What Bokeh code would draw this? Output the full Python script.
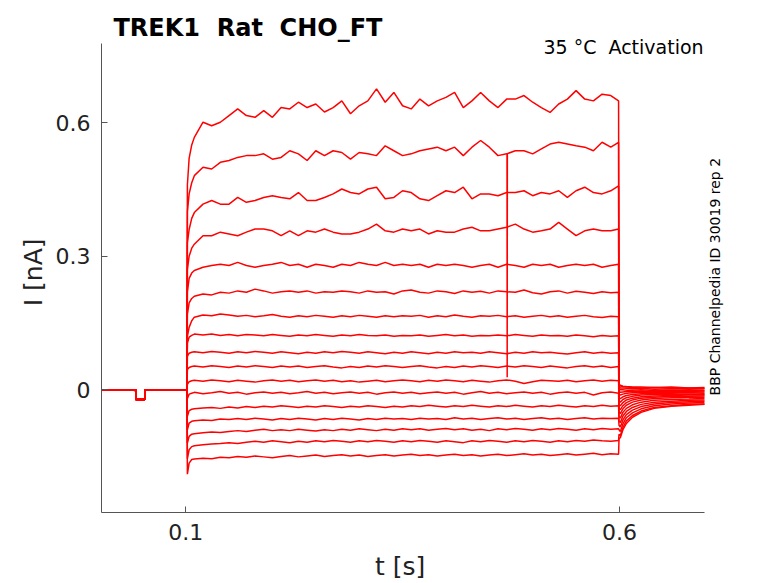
from bokeh.plotting import figure
from bokeh.models import Range1d, FixedTicker, Label
from bokeh.embed import file_html
from bokeh.resources import INLINE
import math

# temps (s) : ligne de base avant le saut de tension
BASE_T = [0.003, 0.0424, 0.0426, 0.0528, 0.053, 0.1015]
BASE_I = [0.0, 0.0, -0.022, -0.022, 0.0, 0.0]

# temps pendant le saut (0.102 .. 0.599)
STEP_T = [0.102, 0.104, 0.107,
          0.11, 0.12, 0.13, 0.14, 0.15, 0.16, 0.17, 0.18, 0.19, 0.20,
          0.21, 0.22, 0.23, 0.24, 0.25, 0.26, 0.27, 0.28, 0.29, 0.30,
          0.31, 0.32, 0.33, 0.34, 0.35, 0.36, 0.37, 0.38, 0.39, 0.40,
          0.41, 0.42, 0.43, 0.44, 0.45, 0.46, 0.47, 0.48, 0.49, 0.50,
          0.51, 0.52, 0.53, 0.54, 0.55, 0.56, 0.57, 0.58, 0.59, 0.599]

# courants (nA) pendant le saut, un trace par tension
TR01 = [0.46, 0.52, 0.55,
        0.567, 0.601, 0.593, 0.601, 0.616, 0.631, 0.616, 0.612, 0.627, 0.612, 0.634, 0.631, 0.646,
        0.634, 0.642, 0.624, 0.634, 0.649, 0.620, 0.638, 0.649, 0.676, 0.646, 0.668, 0.638,
        0.631, 0.653, 0.638, 0.649, 0.657, 0.668, 0.634, 0.649, 0.668, 0.649, 0.634, 0.653,
        0.653, 0.661, 0.646, 0.634, 0.623, 0.642, 0.653, 0.672, 0.653, 0.649, 0.664, 0.661, 0.649]
TR02 = [0.40, 0.44, 0.465,
        0.481, 0.500, 0.496, 0.511, 0.515, 0.522, 0.526, 0.526, 0.530, 0.518, 0.522, 0.537, 0.530,
        0.515, 0.537, 0.526, 0.537, 0.533, 0.518, 0.533, 0.530, 0.526, 0.548, 0.537, 0.526,
        0.530, 0.537, 0.541, 0.545, 0.537, 0.545, 0.526, 0.545, 0.560, 0.545, 0.526, 0.530,
        0.537, 0.537, 0.530, 0.541, 0.552, 0.556, 0.552, 0.548, 0.545, 0.537, 0.556, 0.545, 0.556]
TR03 = [0.33, 0.36, 0.385,
        0.398, 0.417, 0.425, 0.417, 0.417, 0.432, 0.421, 0.425, 0.432, 0.436, 0.432, 0.429, 0.443,
        0.425, 0.425, 0.432, 0.440, 0.451, 0.443, 0.440, 0.451, 0.455, 0.429, 0.432, 0.447,
        0.443, 0.429, 0.425, 0.436, 0.447, 0.443, 0.455, 0.429, 0.440, 0.440, 0.436, 0.443,
        0.443, 0.447, 0.436, 0.443, 0.440, 0.447, 0.432, 0.447, 0.455, 0.443, 0.440, 0.447, 0.458]
TR04 = [0.27, 0.30, 0.318,
        0.327, 0.346, 0.346, 0.354, 0.350, 0.346, 0.354, 0.361, 0.361, 0.357, 0.346, 0.357, 0.346,
        0.357, 0.354, 0.361, 0.354, 0.350, 0.350, 0.354, 0.361, 0.372, 0.357, 0.354, 0.361,
        0.357, 0.361, 0.350, 0.357, 0.354, 0.354, 0.361, 0.365, 0.357, 0.357, 0.361, 0.365,
        0.372, 0.361, 0.354, 0.357, 0.361, 0.376, 0.361, 0.346, 0.357, 0.361, 0.357, 0.357, 0.361]
TR05 = [0.22, 0.25, 0.262,
        0.268, 0.275, 0.279, 0.282, 0.279, 0.286, 0.279, 0.275, 0.279, 0.282, 0.286, 0.279, 0.282,
        0.275, 0.282, 0.279, 0.275, 0.282, 0.279, 0.286, 0.282, 0.279, 0.286, 0.279, 0.282,
        0.279, 0.282, 0.275, 0.282, 0.279, 0.282, 0.279, 0.275, 0.279, 0.282, 0.275, 0.282,
        0.279, 0.275, 0.282, 0.279, 0.282, 0.275, 0.279, 0.282, 0.279, 0.282, 0.275, 0.279, 0.282]
TR06 = [0.17, 0.195, 0.205,
        0.210, 0.215, 0.213, 0.219, 0.217, 0.222, 0.219, 0.226, 0.222, 0.217, 0.220, 0.222, 0.219,
        0.222, 0.217, 0.220, 0.219, 0.222, 0.220, 0.217, 0.222, 0.219, 0.220, 0.215, 0.222,
        0.224, 0.219, 0.217, 0.222, 0.220, 0.216, 0.222, 0.219, 0.221, 0.217, 0.222, 0.220,
        0.219, 0.224, 0.218, 0.215, 0.220, 0.222, 0.217, 0.221, 0.219, 0.216, 0.220, 0.218, 0.219]
TR07 = [0.12, 0.140, 0.155,
        0.163, 0.168, 0.166, 0.170, 0.168, 0.165, 0.167, 0.164, 0.166, 0.169, 0.165, 0.163, 0.166,
        0.164, 0.167, 0.165, 0.163, 0.166, 0.164, 0.167, 0.165, 0.163, 0.166, 0.164, 0.166,
        0.165, 0.167, 0.163, 0.166, 0.164, 0.168, 0.165, 0.163, 0.166, 0.165, 0.167, 0.164,
        0.166, 0.163, 0.165, 0.167, 0.164, 0.166, 0.163, 0.165, 0.167, 0.164, 0.162, 0.165, 0.164]
TR08 = [0.105, 0.118, 0.122,
        0.125, 0.123, 0.125, 0.122, 0.124, 0.121, 0.124, 0.123, 0.121, 0.124, 0.122, 0.120, 0.123,
        0.121, 0.124, 0.122, 0.120, 0.123, 0.121, 0.124, 0.122, 0.121, 0.123, 0.120, 0.122,
        0.121, 0.123, 0.120, 0.122, 0.124, 0.121, 0.123, 0.120, 0.122, 0.121, 0.123, 0.121,
        0.124, 0.122, 0.120, 0.123, 0.121, 0.122, 0.120, 0.123, 0.121, 0.119, 0.122, 0.120, 0.121]
TR09 = [0.075, 0.082, 0.084,
        0.085, 0.083, 0.086, 0.084, 0.082, 0.085, 0.083, 0.086, 0.084, 0.082, 0.085, 0.083, 0.081,
        0.084, 0.082, 0.085, 0.083, 0.086, 0.084, 0.082, 0.085, 0.083, 0.081, 0.084, 0.082,
        0.085, 0.083, 0.081, 0.084, 0.082, 0.085, 0.083, 0.084, 0.082, 0.085, 0.083, 0.081,
        0.084, 0.082, 0.085, 0.083, 0.084, 0.082, 0.080, 0.083, 0.085, 0.082, 0.084, 0.082, 0.083]
TR10 = [0.045, 0.050, 0.052,
        0.053, 0.051, 0.054, 0.052, 0.050, 0.053, 0.051, 0.054, 0.052, 0.050, 0.053, 0.051, 0.053,
        0.050, 0.052, 0.054, 0.051, 0.049, 0.052, 0.050, 0.053, 0.051, 0.054, 0.052, 0.050,
        0.052, 0.054, 0.051, 0.049, 0.052, 0.050, 0.053, 0.051, 0.054, 0.052, 0.050, 0.053,
        0.051, 0.054, 0.052, 0.050, 0.053, 0.051, 0.049, 0.052, 0.054, 0.051, 0.053, 0.050, 0.052]
TR11 = [0.012, 0.018, 0.020,
        0.021, 0.019, 0.022, 0.020, 0.018, 0.021, 0.019, 0.017, 0.020, 0.022, 0.019, 0.021, 0.018,
        0.020, 0.022, 0.019, 0.021, 0.018, 0.020, 0.017, 0.019, 0.021, 0.018, 0.020, 0.022,
        0.020, 0.018, 0.021, 0.019, 0.022, 0.020, 0.018, 0.021, 0.019, 0.017, 0.020, 0.022,
        0.019, 0.014, 0.018, 0.021, 0.020, 0.019, 0.021, 0.018, 0.020, 0.022, 0.019, 0.021, 0.020]
TR12 = [-0.020, -0.010, -0.008,
        -0.006, -0.009, -0.007, -0.004, -0.008, -0.006, -0.010, -0.007, -0.005, -0.008, -0.006, -0.009, -0.007,
        -0.004, -0.008, -0.006, -0.009, -0.007, -0.005, -0.008, -0.006, -0.010, -0.007, -0.005, -0.008,
        -0.006, -0.009, -0.007, -0.005, -0.008, -0.006, -0.010, -0.007, -0.004, -0.008, -0.006, -0.009,
        -0.007, -0.005, -0.008, -0.006, -0.010, -0.007, -0.005, -0.008, -0.006, -0.012, -0.007, -0.005, -0.008]
TR13 = [-0.060, -0.047, -0.044,
        -0.043, -0.041, -0.040, -0.042, -0.039, -0.041, -0.038, -0.040, -0.037, -0.039, -0.036, -0.038, -0.040,
        -0.037, -0.039, -0.036, -0.038, -0.040, -0.037, -0.039, -0.036, -0.038, -0.040, -0.037, -0.039,
        -0.036, -0.038, -0.035, -0.037, -0.039, -0.036, -0.038, -0.035, -0.037, -0.039, -0.036, -0.038,
        -0.035, -0.037, -0.039, -0.036, -0.038, -0.035, -0.037, -0.039, -0.036, -0.038, -0.035, -0.037, -0.036]
TR14 = [-0.090, -0.075, -0.071,
        -0.070, -0.068, -0.069, -0.066, -0.067, -0.065, -0.067, -0.064, -0.066, -0.068, -0.065, -0.067, -0.064,
        -0.066, -0.068, -0.065, -0.067, -0.064, -0.066, -0.068, -0.065, -0.067, -0.064, -0.066, -0.065,
        -0.067, -0.064, -0.066, -0.065, -0.067, -0.063, -0.066, -0.064, -0.067, -0.065, -0.063, -0.066,
        -0.064, -0.067, -0.065, -0.063, -0.066, -0.064, -0.067, -0.065, -0.063, -0.066, -0.064, -0.065, -0.064]
TR15 = [-0.120, -0.105, -0.100,
        -0.099, -0.097, -0.095, -0.096, -0.094, -0.092, -0.094, -0.091, -0.089, -0.092, -0.090, -0.092, -0.089,
        -0.091, -0.093, -0.090, -0.092, -0.089, -0.091, -0.088, -0.090, -0.092, -0.089, -0.091, -0.088,
        -0.090, -0.088, -0.091, -0.089, -0.087, -0.090, -0.088, -0.091, -0.089, -0.092, -0.088, -0.090,
        -0.087, -0.089, -0.091, -0.088, -0.090, -0.087, -0.089, -0.091, -0.088, -0.090, -0.087, -0.089, -0.088]
TR16 = [-0.155, -0.135, -0.128,
        -0.126, -0.124, -0.122, -0.121, -0.119, -0.121, -0.118, -0.116, -0.118, -0.115, -0.117, -0.119, -0.116,
        -0.118, -0.115, -0.117, -0.114, -0.116, -0.118, -0.115, -0.117, -0.114, -0.116, -0.118, -0.115,
        -0.117, -0.114, -0.116, -0.118, -0.115, -0.117, -0.119, -0.115, -0.117, -0.114, -0.116, -0.118,
        -0.115, -0.117, -0.114, -0.116, -0.118, -0.115, -0.117, -0.114, -0.116, -0.113, -0.115, -0.116, -0.114]
TR17 = [-0.190, -0.165, -0.157,
        -0.156, -0.154, -0.155, -0.152, -0.153, -0.150, -0.152, -0.149, -0.151, -0.153, -0.150, -0.148, -0.151,
        -0.149, -0.147, -0.150, -0.148, -0.146, -0.149, -0.147, -0.150, -0.148, -0.146, -0.149, -0.147,
        -0.145, -0.148, -0.146, -0.149, -0.147, -0.145, -0.148, -0.146, -0.149, -0.147, -0.145, -0.148,
        -0.146, -0.144, -0.147, -0.145, -0.148, -0.146, -0.144, -0.147, -0.145, -0.143, -0.146, -0.144, -0.145]

# queue apres le saut
TAIL_T = [0.5995, 0.601, 0.604, 0.608, 0.615, 0.625, 0.64, 0.66, 0.68, 0.698]
TL01 = [0.012, 0.010, 0.008, 0.007, 0.006, 0.006, 0.005, 0.006, 0.004, 0.005]
TL02 = [0.010, 0.008, 0.007, 0.006, 0.005, 0.004, 0.005, 0.003, 0.004, 0.003]
TL03 = [0.006, 0.004, 0.004, 0.003, 0.002, 0.003, 0.001, 0.002, 0.001, 0.002]
TL04 = [0.002, 0.000, 0.000, -0.001, -0.001, 0.000, -0.002, -0.001, -0.002, -0.001]
TL05 = [-0.004, -0.006, -0.005, -0.004, -0.004, -0.003, -0.004, -0.003, -0.004, -0.003]
TL06 = [-0.010, -0.012, -0.010, -0.008, -0.007, -0.006, -0.006, -0.005, -0.006, -0.005]
TL07 = [-0.018, -0.020, -0.016, -0.013, -0.011, -0.009, -0.008, -0.008, -0.007, -0.008]
TL08 = [-0.026, -0.028, -0.022, -0.018, -0.015, -0.012, -0.011, -0.010, -0.010, -0.010]
TL09 = [-0.034, -0.036, -0.029, -0.023, -0.019, -0.016, -0.014, -0.013, -0.012, -0.012]
TL10 = [-0.042, -0.045, -0.036, -0.029, -0.023, -0.019, -0.017, -0.015, -0.015, -0.014]
TL11 = [-0.050, -0.054, -0.043, -0.035, -0.028, -0.023, -0.020, -0.018, -0.017, -0.017]
TL12 = [-0.060, -0.064, -0.051, -0.042, -0.034, -0.028, -0.024, -0.022, -0.021, -0.020]
TL13 = [-0.070, -0.074, -0.059, -0.049, -0.040, -0.033, -0.028, -0.026, -0.024, -0.023]
TL14 = [-0.080, -0.084, -0.068, -0.056, -0.046, -0.038, -0.032, -0.029, -0.027, -0.026]
TL15 = [-0.090, -0.094, -0.077, -0.063, -0.052, -0.043, -0.036, -0.032, -0.030, -0.029]
TL16 = [-0.100, -0.103, -0.085, -0.070, -0.058, -0.048, -0.040, -0.036, -0.033, -0.032]
TL17 = [-0.110, -0.108, -0.090, -0.076, -0.062, -0.051, -0.042, -0.037, -0.035, -0.033]

# artefact sur le 2e trace
SPIKE_T = [0.4704, 0.4706, 0.4708]
SPIKE_I = [0.531, 0.028, 0.531]

X_TICKS = [0.1, 0.6]
Y_TICKS = [0, 0.3, 0.6]

steps = [TR01, TR02, TR03, TR04, TR05, TR06, TR07, TR08, TR09,
         TR10, TR11, TR12, TR13, TR14, TR15, TR16, TR17]
tails = [TL01, TL02, TL03, TL04, TL05, TL06, TL07, TL08, TL09,
         TL10, TL11, TL12, TL13, TL14, TL15, TL16, TL17]

FONT = "DejaVu Sans"
RED = "#ff0000"
NB = "\u00a0"  # espaces insecables (doubles espaces, centrage des titres d'axes)

# le cadre couvre aussi la zone des textes, les axes sont bornes aux donnees
p = figure(width=770, height=583, output_backend="svg", toolbar_location=None, title=None,
           x_range=Range1d(0.003, 0.7741), y_range=Range1d(-0.276, 0.8746),
           min_border_left=101, min_border_right=0, min_border_top=0, min_border_bottom=71)

for st, tl in zip(steps, tails):
    p.line(BASE_T + STEP_T + TAIL_T, BASE_I + st + tl, line_color=RED, line_width=1.5)
p.line(SPIKE_T, SPIKE_I, line_color=RED, line_width=1.5)

p.grid.visible = False
p.outline_line_color = None

for ax in (p.xaxis[0], p.yaxis[0]):
    ax.axis_line_color = "#555555"
    ax.major_tick_line_color = "#555555"
    ax.major_tick_in = 6
    ax.major_tick_out = 0
    ax.minor_tick_line_color = None
    ax.major_label_text_font = FONT
    ax.major_label_text_font_size = "22px"
    ax.major_label_text_color = "#222222"
    ax.axis_label_text_font = FONT
    ax.axis_label_text_font_size = "25px"
    ax.axis_label_text_font_style = "normal"
    ax.axis_label_text_color = "#222222"

p.xaxis.bounds = (0.003, 0.698)
p.yaxis.bounds = (-0.276, 0.778)
p.xaxis.ticker = FixedTicker(ticks=X_TICKS)
p.yaxis.ticker = FixedTicker(ticks=Y_TICKS)
p.xaxis.major_label_overrides = {0.1: "0.1", 0.6: "0.6"}
p.yaxis.major_label_overrides = {0: "0", 0.3: "0.3", 0.6: "0.6"}
# le titre d'axe est centre sur le cadre : on le decale vers le centre des axes
p.xaxis.axis_label = "t [s]" + NB * 9
p.yaxis.axis_label = "I [nA]" + NB * 4
p.xaxis.major_label_standoff = 11
p.yaxis.major_label_standoff = 11
p.xaxis.axis_label_standoff = 9
p.yaxis.axis_label_standoff = 5

p.add_layout(Label(x=0.0168, y=0.8139, text="TREK1" + NB + " Rat" + NB + " CHO_FT",
                   text_align="left", text_baseline="alphabetic", text_font=FONT,
                   text_font_size="24px", text_font_style="bold", text_color="black"))
p.add_layout(Label(x=0.697, y=0.769, text="35 °C" + NB + " Activation",
                   text_align="right", text_baseline="alphabetic", text_font=FONT,
                   text_font_size="19px", text_color="black"))
p.add_layout(Label(x=0.7107, y=-0.013, text="BBP Channelpedia ID 30019 rep 2",
                   angle=math.pi / 2, text_align="left", text_baseline="middle",
                   text_font=FONT, text_font_size="14px", text_color="black"))

open("out.html", "w").write(file_html(p, INLINE))
